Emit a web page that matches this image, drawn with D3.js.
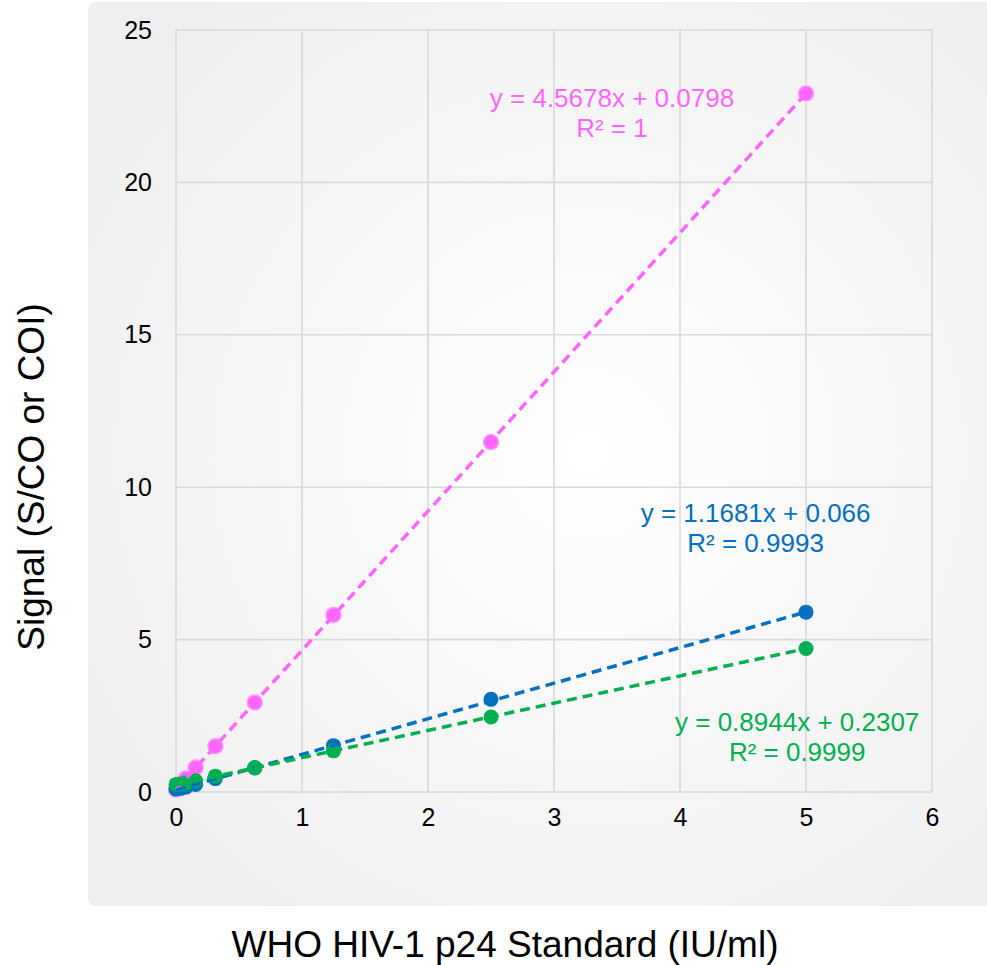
<!DOCTYPE html>
<html>
<head>
<meta charset="utf-8">
<script src="https://cdn.jsdelivr.net/npm/d3@7"></script>
<style>
  body { margin: 0; background: #fff; }
  svg { display: block; font-family: "Liberation Sans", Arial, sans-serif; }
</style>
</head>
<body>
<div id="chart"></div>
<script>
// concentrations (IU/ml)
const conc = [0, 0.039, 0.078, 0.156, 0.3125, 0.625, 1.25, 2.5, 5]
// signal per assay
const pinkVals = [0.08, 0.26, 0.44, 0.80, 1.50, 2.94, 5.81, 11.48, 22.92]
const blueVals = [0.10, 0.12, 0.16, 0.25, 0.44, 0.79, 1.52, 3.04, 5.90]
const greenVals = [0.25, 0.26, 0.30, 0.37, 0.52, 0.80, 1.35, 2.46, 4.71]
// trendline coefficients as printed on the chart
const slopes = [4.5678, 1.1681, 0.8944]
const intercepts = [0.0798, 0.066, 0.2307]
const eqLabels = [
  ["y = 4.5678x + 0.0798", "R² = 1"],
  ["y = 1.1681x + 0.066", "R² = 0.9993"],
  ["y = 0.8944x + 0.2307", "R² = 0.9999"]
]
const colors = ["#ff66ff", "#0070c0", "#00b050"]
const xTicks = [0, 1, 2, 3, 4, 5, 6]
const yTicks = [0, 5, 10, 15, 20, 25]

let width = 987, height = 965

let svg = d3.select("#chart").append("svg")
    .attr("width", width)
    .attr("height", height)

// panel background
let defs = svg.append("defs")
let grad = defs.append("radialGradient")
    .attr("id", "bg")
    .attr("cx", "55%").attr("cy", "50%").attr("r", "65%")
grad.append("stop").attr("offset", "0%").attr("stop-color", "#ffffff")
grad.append("stop").attr("offset", "100%").attr("stop-color", "#efefef")

svg.append("rect")
    .attr("x", 88).attr("y", 2)
    .attr("width", 910).attr("height", 904)
    .attr("rx", 8)
    .attr("fill", "url(#bg)")

let x = d3.scaleLinear().domain([0, 6]).range([176, 932])
let y = d3.scaleLinear().domain([0, 25]).range([792, 30])

// grid
svg.append("g")
    .selectAll("line")
    .data(xTicks)
    .enter().append("line")
    .attr("x1", d => x(d)).attr("x2", d => x(d))
    .attr("y1", y(0)).attr("y2", y(25))
    .attr("stroke", "#d9d9d9").attr("stroke-width", 1.6)

svg.append("g")
    .selectAll("line")
    .data(yTicks)
    .enter().append("line")
    .attr("x1", x(0)).attr("x2", x(6))
    .attr("y1", d => y(d)).attr("y2", d => y(d))
    .attr("stroke", "#d9d9d9").attr("stroke-width", 1.6)

// axes (labels only, Excel style)
let xAxis = svg.append("g")
    .attr("transform", `translate(0, ${y(0)})`)
    .call(d3.axisBottom(x).tickValues(xTicks).tickFormat(d3.format("d")).tickSize(0).tickPadding(16))
xAxis.select(".domain").remove()
xAxis.selectAll("text")
    .attr("font-size", 25).attr("fill", "#000")
    .attr("font-family", "Liberation Sans, Arial, sans-serif")

let yAxis = svg.append("g")
    .attr("transform", `translate(${x(0)}, 0)`)
    .call(d3.axisLeft(y).tickValues(yTicks).tickFormat(d3.format("d")).tickSize(0).tickPadding(24))
yAxis.select(".domain").remove()
yAxis.selectAll("text")
    .attr("font-size", 25).attr("fill", "#000")
    .attr("font-family", "Liberation Sans, Arial, sans-serif")

// markers
const series = [pinkVals, blueVals, greenVals]
series.forEach((vals, i) => {
    svg.append("g")
        .selectAll("circle")
        .data(conc.map((c, j) => ({ c: c, v: vals[j] })))
        .enter().append("circle")
        .attr("cx", d => x(d.c))
        .attr("cy", d => y(d.v))
        .attr("r", 7.5)
        .attr("fill", colors[i])
        .attr("stroke", i === 0 ? "#ff99ff" : "none")
        .attr("stroke-width", 1.5)
})

// trendlines
series.forEach((vals, i) => {
    let x0 = d3.min(conc), x1 = d3.max(conc)
    svg.append("line")
        .attr("x1", x(x0)).attr("y1", y(slopes[i] * x0 + intercepts[i]))
        .attr("x2", x(x1)).attr("y2", y(slopes[i] * x1 + intercepts[i]))
        .attr("stroke", colors[i])
        .attr("stroke-width", 3.5)
        .attr("stroke-dasharray", "10,6")
})

// equation labels (anchor in data units)
const labelPos = [[3.46, 22.47], [4.60, 8.85], [4.93, 2.0]]
eqLabels.forEach((lines, i) => {
    let t = svg.append("text")
        .attr("text-anchor", "middle")
        .attr("font-size", 26)
        .attr("fill", colors[i])
    lines.forEach((s, k) => {
        t.append("tspan")
            .attr("x", x(labelPos[i][0]))
            .attr("y", y(labelPos[i][1]) + k * 30)
            .text(s)
    })
})

// axis titles
svg.append("text")
    .attr("x", 505).attr("y", 957)
    .attr("text-anchor", "middle")
    .attr("font-size", 37)
    .attr("fill", "#000")
    .text("WHO HIV-1 p24 Standard (IU/ml)")

svg.append("text")
    .attr("transform", "translate(44, 477) rotate(-90)")
    .attr("text-anchor", "middle")
    .attr("font-size", 37)
    .attr("fill", "#000")
    .text("Signal (S/CO or COI)")
</script>
</body>
</html>
